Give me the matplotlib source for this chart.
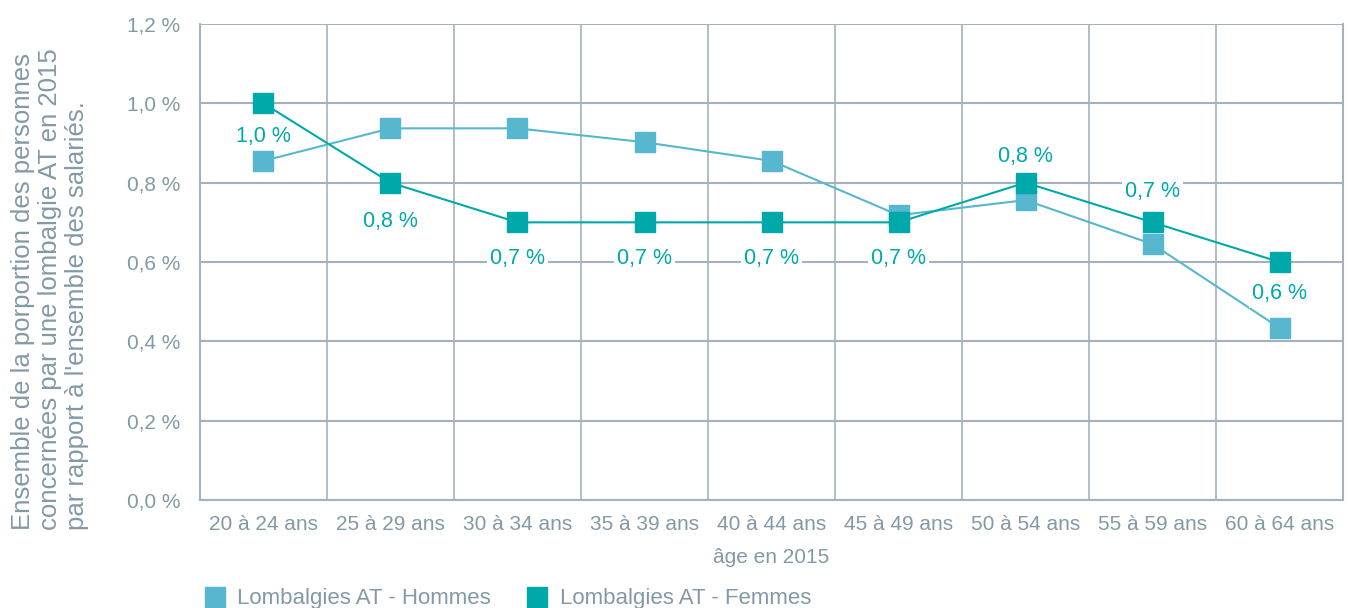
import matplotlib.pyplot as plt
from matplotlib.ticker import FixedLocator

plt.rcParams['font.family'] = ['Liberation Sans', 'DejaVu Sans']

# Données
tranches = ['20 à 24 ans', '25 à 29 ans', '30 à 34 ans', '35 à 39 ans', '40 à 44 ans',
            '45 à 49 ans', '50 à 54 ans', '55 à 59 ans', '60 à 64 ans']
hommes = [0.855, 0.937, 0.937, 0.902, 0.855, 0.718, 0.756, 0.645, 0.434]
femmes = [1.0, 0.8, 0.7, 0.7, 0.7, 0.7, 0.8, 0.7, 0.6]
etiquettes = ['1,0 %', '0,8 %', '0,7 %', '0,7 %', '0,7 %', '0,7 %', '0,8 %', '0,7 %', '0,6 %']
# décalage vertical des étiquettes (points)
decalage = [-24, -28, -26, -26, -26, -26, 19, 22, -23]

c_hommes = '#56B7CE'
c_femmes = '#00A9A9'
c_grille = '#A3B2BD'
c_texte = '#8399A6'

fig = plt.figure(figsize=(13.54, 6.08), dpi=100)
ax = fig.add_axes([0.1477, 0.1776, 0.8442, 0.7829])

x = list(range(len(tranches)))
ax.plot(x, hommes, color=c_hommes, lw=1.5, marker='s', ms=14, mec=c_hommes,
        label='Lombalgies AT - Hommes', zorder=3)
ax.plot(x, femmes, color=c_femmes, lw=1.5, marker='s', ms=14, mec=c_femmes,
        label='Lombalgies AT - Femmes', zorder=4)

for i, (v, t) in enumerate(zip(femmes, etiquettes)):
    ax.annotate(t, (i, v), xytext=(0, decalage[i]), textcoords='offset points',
                ha='center', va='center', fontsize=15.5, color=c_femmes, zorder=5,
                bbox=dict(boxstyle='square,pad=0.15', fc='white', ec='none'))

ax.set_xlim(-0.5, 8.5)
ax.set_ylim(0, 1.2)
ax.set_yticks([0, 0.2, 0.4, 0.6, 0.8, 1.0, 1.2])
ax.set_yticklabels(['0,0 %', '0,2 %', '0,4 %', '0,6 %', '0,8 %', '1,0 %', '1,2 %'])
ax.set_xticks(x)
ax.set_xticklabels(tranches)
ax.xaxis.set_minor_locator(FixedLocator([i + 0.5 for i in range(-1, 9)]))
ax.tick_params(axis='both', which='both', length=0, labelsize=15, colors=c_texte, pad=14)
ax.tick_params(axis='x', pad=11)
ax.grid(True, axis='y', which='major', color=c_grille, lw=1.5, zorder=1)
ax.grid(True, axis='x', which='minor', color=c_grille, lw=1.2, zorder=1)
for s in ['left', 'right', 'bottom']:
    ax.spines[s].set_color(c_grille)
    ax.spines[s].set_linewidth(1.5)
ax.spines['top'].set_visible(False)

ax.set_xlabel('âge en 2015', fontsize=15, color=c_texte, labelpad=10)
fig.text(0.037, 0.128, 'Ensemble de la porportion des personnes\n'
         'concernées par une lombalgie AT en 2015\n'
         "par rapport à l'ensemble des salariés.",
         rotation=90, ha='center', va='bottom', multialignment='left',
         fontsize=18.5, color=c_texte, linespacing=1.15)

fig.legend(loc='lower left', bbox_to_anchor=(0.1356, -0.035), ncol=2, frameon=False,
           fontsize=16, labelcolor=c_texte, handlelength=1.0, handletextpad=0.52,
           columnspacing=1.56)
leg = fig.legends[0]
for h in leg.legend_handles:
    h.set_linestyle('none')
    h.set_markersize(15)

fig.savefig('out.png', dpi=100)
